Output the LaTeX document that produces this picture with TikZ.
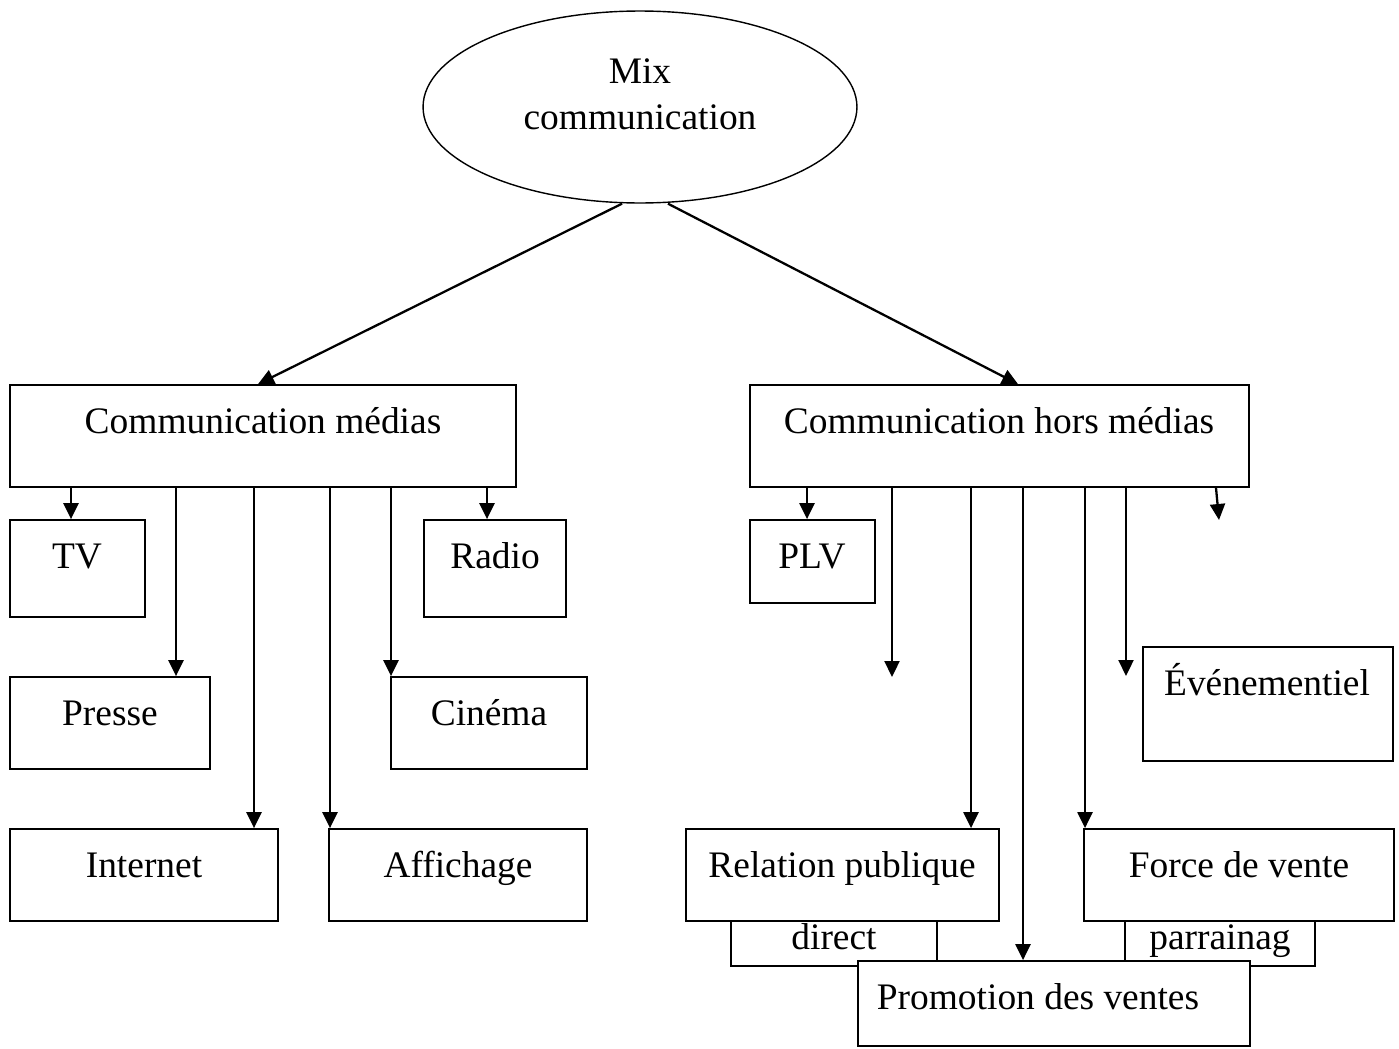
\documentclass[tikz,border=0pt]{standalone}
\usepackage{fontspec}
\setmainfont{Liberation Serif}
\usetikzlibrary{arrows.meta,shapes.geometric}
% framed box: name, x1, y1, x2, y2, text, text x (baseline 48 units below top)
\newcommand\mkbox[7]{%
  \node[box, minimum width={(#4-#2)*0.02cm}, minimum height={(#5-#3)*0.02cm}]
    (#1) at ({(#2+#4)/2},{(#3+#5)/2}) {};
  \node[lbl] (#1-t) at ({#7},{#3+48}) {#6};}
\begin{document}
\begin{tikzpicture}[x=0.02cm,y=-0.02cm,
  box/.style={draw, rectangle, line width=1pt, fill=white, inner sep=0pt},
  lbl/.style={anchor=base, inner sep=0pt, font=\fontsize{21.3}{25}\selectfont},
  arr/.style={line width=1.3pt, -{Triangle[length=0.32cm,width=0.30cm]}},
  oval/.style={draw, ellipse, line width=0.8pt, inner sep=0pt}]
\useasboundingbox (0,0) rectangle (1399,1048);

% root
\node[oval, minimum width=8.68cm, minimum height=3.84cm] (mix) at (640,107) {};
\node[lbl] (mix-a) at (640,83) {Mix};
\node[lbl] (mix-b) at (640,129) {communication};

% two branches
\mkbox{cm}{10}{385}{516}{487}{Communication médias}{263}
\mkbox{hm}{750}{385}{1249}{487}{Communication hors médias}{999}

% media channels
\mkbox{tv}{10}{520}{145}{617}{TV}{77}
\mkbox{radio}{424}{520}{566}{617}{Radio}{495}
\mkbox{presse}{10}{677}{210}{769}{Presse}{110}
\mkbox{cinema}{391}{677}{587}{769}{Cinéma}{489}
\mkbox{internet}{10}{829}{278}{921}{Internet}{144}
\mkbox{affichage}{329}{829}{587}{921}{Affichage}{458}

% below-the-line channels (back boxes first)
\node[box, minimum width={(937-731)*0.02cm}, minimum height={(966-860)*0.02cm}]
  (direct) at ({(731+937)/2},{(860+966)/2}) {};
\node[lbl] (direct-t) at (834,949) {direct};
\node[box, minimum width={(1315-1125)*0.02cm}, minimum height={(966-860)*0.02cm}]
  (parr) at ({(1125+1315)/2},{(860+966)/2}) {};
\node[lbl] (parr-t) at (1220,949) {parrainag};

\mkbox{plv}{750}{520}{875}{603}{PLV}{812}
\mkbox{even}{1143}{647}{1393}{761}{Événementiel}{1267}
\mkbox{relpub}{686}{829}{999}{921}{Relation publique}{842}
\mkbox{force}{1084}{829}{1394}{921}{Force de vente}{1239}
\mkbox{promo}{858}{961}{1250}{1046}{Promotion des ventes}{1038}

% root to branches
\draw[arr] ([xshift=-0.36cm]mix.south) -- (258,0 |- cm.north);
\draw[arr] ([xshift=0.56cm]mix.south) -- (1018,0 |- hm.north);

% media arrows
\draw[arr] (71,0 |- cm.south) -- (71,0 |- tv.north);
\draw[arr] (176,0 |- cm.south) -- (176,0 |- presse.north);
\draw[arr] (254,0 |- cm.south) -- (254,0 |- internet.north);
\draw[arr] (330,0 |- cm.south) -- (330,0 |- affichage.north);
\draw[arr] (391,0 |- cm.south) -- (391,0 |- cinema.north);
\draw[arr] (487,0 |- cm.south) -- (487,0 |- radio.north);

% below-the-line arrows
\coordinate (end1) at (892,677);
\coordinate (end2) at (1126,676);
\coordinate (end3) at (1219,520);
\draw[arr] (807,0 |- hm.south) -- (807,0 |- plv.north);
\draw[arr] (892,0 |- hm.south) -- (end1);
\draw[arr] (971,0 |- hm.south) -- (971,0 |- relpub.north);
\draw[arr] (1023,0 |- hm.south) -- (1023,0 |- promo.north);
\draw[arr] (1085,0 |- hm.south) -- (1085,0 |- force.north);
\draw[arr] (1126,0 |- hm.south) -- (end2);
\draw[arr] (1216,0 |- hm.south) -- (end3);
\end{tikzpicture}
\end{document}
